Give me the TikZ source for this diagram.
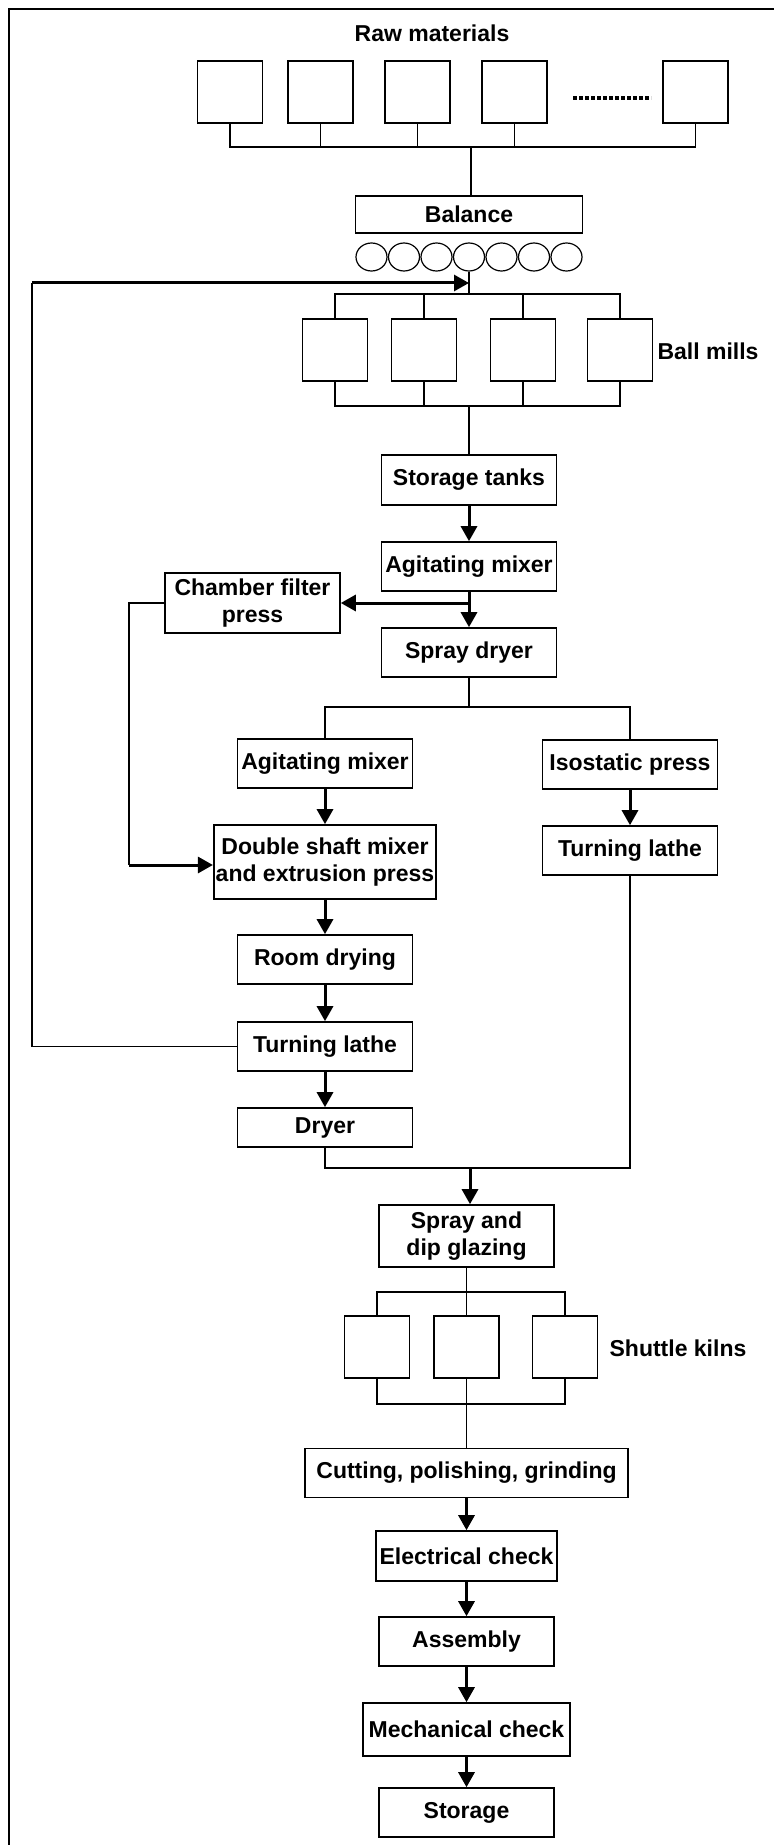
\documentclass[tikz,border=0pt]{standalone}
\usepackage{fontspec}
\setmainfont{Liberation Sans}
\usetikzlibrary{arrows.meta, shapes.geometric}
\tikzset{
    every node/.style={font=\fontsize{11.5}{13.5}\selectfont\bfseries},
    proc/.style={draw, line width=.8pt, align=center, inner sep=1pt,
        minimum width=87.5pt, minimum height=24.5pt},
    unit/.style={draw, line width=.8pt, minimum width=32.5pt,
        minimum height=31pt},
    blob/.style={draw, ellipse, line width=.6pt, inner sep=0pt,
        minimum width=15.5pt, minimum height=14pt},
    wire/.style={line width=.7pt},
    flow/.style={line width=1.5pt, -{Triangle[length=7.5pt, width=8pt]}},
    dotrow/.style={line width=1.8pt, dash pattern=on 2.2pt off .8pt},
}

\begin{document}
\begin{tikzpicture}[x=.5pt, y=-.5pt]
    \useasboundingbox (0,0) rectangle (774,1845);
    \draw[line width=1.3pt] (9,1845) -- (9,9) -- (774,9);

    % raw materials and weighing
    \node (rawlbl) at (432,33) {Raw materials};
    \foreach \i/\x in {1/230,2/320.5,3/417.5,4/514.5,5/695.5}
        \node[unit] (raw\i) at (\x,92) {};
    \draw[dotrow] (573,98) -- (651,98);
    \coordinate (rawbus) at (471,147);
    \foreach \i in {1,...,5}
        \draw[wire] (raw\i.south) |- (rawbus);
    \node[proc, minimum width=113.5pt, minimum height=18.5pt] (balance)
        at (469,214.5) {Balance};
    \draw[wire] (rawbus) -- (rawbus |- balance.north);
    \foreach \i in {1,...,7}
        \node[blob] (ball\i) at ({469+(\i-4)*32.5},257) {};

    % ball mills
    \foreach \i/\x in {1/335,2/424,3/523,4/620}
        \node[unit] (mill\i) at (\x,350) {};
    \node (milllbl) at (708,351) {Ball mills};
    \coordinate (milltop) at (469,294);
    \coordinate (millbot) at (469,406);
    \foreach \i in {1,...,4} {
        \draw[wire] (mill\i.north) |- (milltop);
        \draw[wire] (mill\i.south) |- (millbot);
    }
    \draw[wire] (ball4.south) -- (milltop);

    \node[proc, minimum height=25pt] (tanks) at (469,480) {Storage tanks};
    \node[proc] (agit1) at (469,566.5) {Agitating mixer};
    \node[proc, minimum height=30pt] (filter) at (252.5,603)
        {Chamber filter\\press};
    \node[proc] (spray) at (469,652.5) {Spray dryer};
    \draw[wire] (millbot) -- (tanks);
    \draw[flow] (tanks) -- (agit1);
    \draw[flow] (agit1) -- (spray);
    \coordinate (split) at (469,603);
    \draw[flow] (split) -- (filter.east);

    % plastic route (left) and isostatic route (right)
    \node[proc] (agit2) at (325,763.5) {Agitating mixer};
    \node[proc] (iso) at (630,764.5) {Isostatic press};
    \node[proc, minimum width=110pt, minimum height=37pt] (dshaft)
        at (325,862) {Double shaft mixer\\and extrusion press};
    \node[proc] (lathe2) at (630,850.5) {Turning lathe};
    \node[proc] (roomdry) at (325,959.5) {Room drying};
    \node[proc] (lathe1) at (325,1046.5) {Turning lathe};
    \node[proc, minimum height=19.5pt] (dryer) at (325,1127.5) {Dryer};

    \coordinate (fork) at (469,707);
    \draw[wire] (spray) -- (fork);
    \draw[wire] (agit2.north) |- (fork) -| (iso.north);
    \coordinate (feed) at (129,865);
    \draw[wire] (filter.west) -| (feed);
    \draw[flow] (feed) -- (feed -| dshaft.west);
    \draw[flow] (agit2) -- (dshaft);
    \draw[flow] (dshaft) -- (roomdry);
    \draw[flow] (roomdry) -- (lathe1);
    \draw[flow] (lathe1) -- (dryer);
    \draw[flow] (iso) -- (lathe2);

    % trimmings go back to the mills
    \coordinate (loop) at (32,283);
    \coordinate (hub) at (469,283);
    \draw[wire] (lathe1.west) -| (loop);
    \draw[flow] (loop) -- (hub);

    % glazing, firing and finishing
    \node[proc, minimum height=31pt] (glaze) at (466.5,1236)
        {Spray and\\dip glazing};
    \coordinate (join) at (470,1168);
    \draw[wire] (dryer.south) |- (join) -| (lathe2.south);
    \draw[flow] (join) -- (join |- glaze.north);

    \foreach \i/\x in {1/377,2/466.5,3/565}
        \node[unit] (kiln\i) at (\x,1347) {};
    \node (kilnlbl) at (678,1348) {Shuttle kilns};
    \coordinate (kilntop) at (466.5,1292);
    \coordinate (kilnbot) at (466.5,1404);
    \foreach \i in {1,...,3} {
        \draw[wire] (kiln\i.north) |- (kilntop);
        \draw[wire] (kiln\i.south) |- (kilnbot);
    }
    \draw[wire] (glaze) -- (kilntop);

    \node[proc, minimum width=161.5pt] (cut) at (466.5,1473)
        {Cutting, polishing, grinding};
    \node[proc, minimum width=90.5pt, minimum height=25pt] (elec)
        at (466.5,1556) {Electrical check};
    \node[proc] (assy) at (466.5,1641.5) {Assembly};
    \node[proc, minimum width=103.5pt, minimum height=26.5pt] (mech)
        at (466.5,1729.5) {Mechanical check};
    \node[proc] (store) at (466.5,1812.5) {Storage};
    \draw[wire] (kilnbot) -- (cut);
    \draw[flow] (cut) -- (elec);
    \draw[flow] (elec) -- (assy);
    \draw[flow] (assy) -- (mech);
    \draw[flow] (mech) -- (store);
\end{tikzpicture}
\end{document}
